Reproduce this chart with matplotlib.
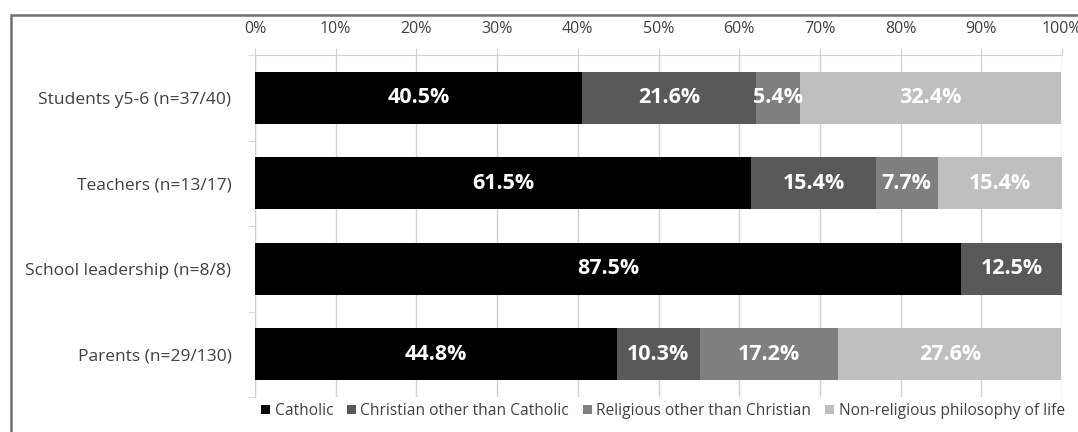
import matplotlib
matplotlib.use("Agg")
import matplotlib.pyplot as plt
from matplotlib.patches import Rectangle
import numpy as np

categories = ["Students y5-6 (n=37/40)", "Teachers (n=13/17)",
              "School leadership (n=8/8)", "Parents (n=29/130)"]
series_names = ["Catholic", "Christian other than Catholic",
                "Religious other than Christian", "Non-religious philosophy of life"]
catholic = [40.5, 61.5, 87.5, 44.8]
christian_other = [21.6, 15.4, 12.5, 10.3]
religious_other = [5.4, 7.7, 0.0, 17.2]
non_religious = [32.4, 15.4, 0.0, 27.6]
tick_values = [0, 10, 20, 30, 40, 50, 60, 70, 80, 90, 100]
tick_labels = [f"{v}%" for v in tick_values]

colors = ["#000000", "#595959", "#7f7f7f", "#bfbfbf"]
font = ["Open Sans", "DejaVu Sans"]
plt.rcParams['font.family'] = font

fig = plt.figure(figsize=(10.78, 4.32), dpi=100)
# outer chart frame (cropped on right/bottom)
fig.patches.append(Rectangle((11/1078, -0.1), 1.2, (432-15)/432 + 0.1,
                             transform=fig.transFigure, fill=False,
                             edgecolor="#6f6f6f", linewidth=1.8))

ax = fig.add_axes([255/1078, 1-397/432, (1062-255)/1078, (397-55)/432])
y = np.arange(len(categories))
left = np.zeros(len(categories))
all_series = [catholic, christian_other, religious_other, non_religious]
for vals, c, name in zip(all_series, colors, series_names):
    vals = np.array(vals)
    ax.barh(y, vals, left=left, height=0.61, color=c, label=name, zorder=3)
    for yi, (l, v) in enumerate(zip(left, vals)):
        if v > 0:
            ax.text(l + v/2, yi, f"{v:.1f}%", ha="center", va="center",
                    color="white", fontsize=15.5, fontweight="bold", zorder=4)
    left = left + vals

ax.set_xlim(0, 100)
ax.set_ylim(len(categories) - 0.5, -0.5)
ax.set_yticks(y)
ax.set_yticklabels(categories, fontsize=12.5, color="#404040")
ax.set_yticks(np.arange(-0.5, len(categories)), minor=True)
ax.tick_params(axis="y", which="major", length=0, pad=17)
ax.tick_params(axis="y", which="minor", length=5, color="#d0d0d0")
ax.xaxis.tick_top()
ax.set_xticks(tick_values)
ax.set_xticklabels(tick_labels, fontsize=11.5, color="#404040")
ax.tick_params(axis="x", length=5, color="#d0d0d0", pad=8)
ax.grid(axis="x", color="#d0d0d0", linewidth=1, zorder=0)
for s in ["right", "bottom"]:
    ax.spines[s].set_visible(False)
ax.spines["top"].set_color("#d0d0d0")
ax.spines["left"].set_color("#d0d0d0")

leg = fig.legend(loc="center", bbox_to_anchor=(663/1078, 1-411/432), ncol=4,
                 frameon=False, fontsize=11.2, handlelength=0.55, handleheight=0.55,
                 handletextpad=0.3, columnspacing=0.9)
for t in leg.get_texts():
    t.set_color("#404040")

fig.savefig("out.png", dpi=100)
